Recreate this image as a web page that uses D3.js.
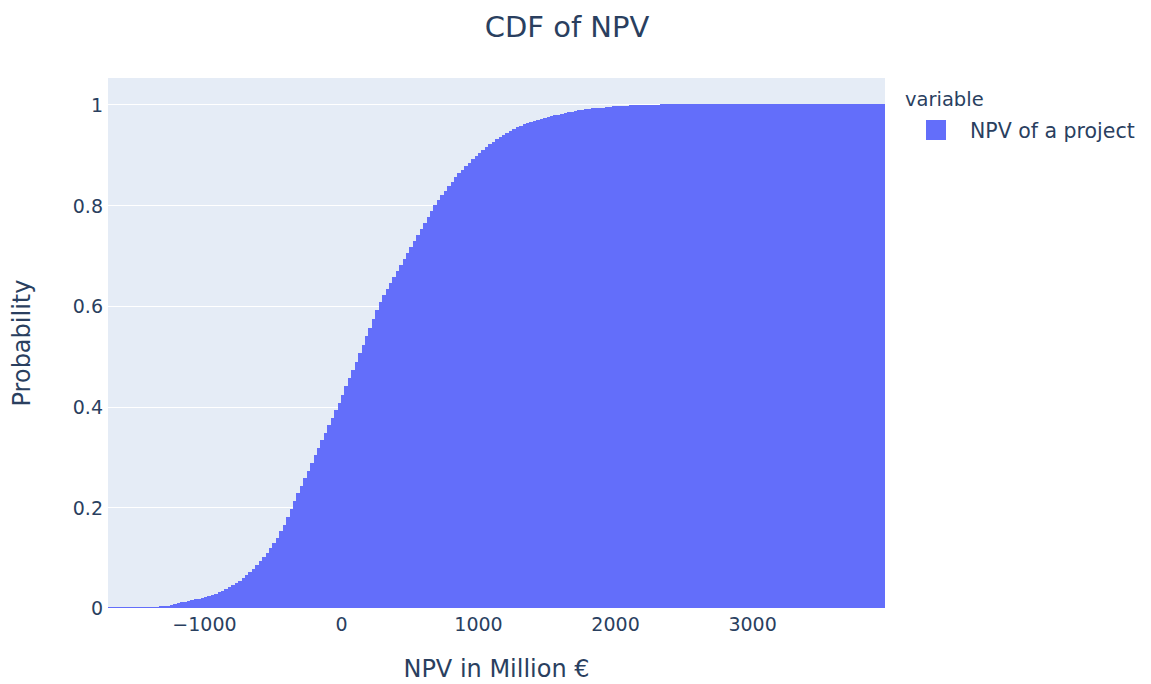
<!DOCTYPE html>
<html>
<head>
<meta charset="utf-8">
<script src="https://cdn.jsdelivr.net/npm/d3@7"></script>
<style>
  html, body { margin: 0; padding: 0; background: #fff; }
  svg text { font-family: "DejaVu Sans", Verdana, sans-serif; fill: #2a3f5f; }
</style>
</head>
<body>
<svg id="chart" width="1151" height="684"></svg>
<script>
// ---- data ----
const binStart = -1700;       // first bin edge (NPV, million €)
const binSize = 25;           // bin width (NPV, million €)
const xDomain = [-1700, 3970];
// cumulative probability of each bin, left to right
const cdfValues = [
  0.001, 0.001, 0.001, 0.001, 0.001, 0.001, 0.001, 0.001, 0.001, 0.002,
  0.002, 0.002, 0.002, 0.002, 0.002, 0.003, 0.003, 0.004, 0.006, 0.008,
  0.010, 0.011, 0.012, 0.014, 0.015, 0.017, 0.018, 0.020, 0.022, 0.024,
  0.026, 0.028, 0.031, 0.034, 0.037, 0.041, 0.045, 0.049, 0.054, 0.059,
  0.065, 0.071, 0.078, 0.086, 0.094, 0.102, 0.110, 0.119, 0.129, 0.140,
  0.152, 0.165, 0.180, 0.196, 0.212, 0.228, 0.243, 0.258, 0.273, 0.288,
  0.303, 0.318, 0.333, 0.348, 0.363, 0.378, 0.393, 0.408, 0.424, 0.440,
  0.456, 0.472, 0.489, 0.506, 0.523, 0.540, 0.557, 0.574, 0.591, 0.607,
  0.621, 0.634, 0.646, 0.658, 0.670, 0.682, 0.693, 0.705, 0.717, 0.729,
  0.741, 0.753, 0.765, 0.777, 0.789, 0.800, 0.810, 0.820, 0.829, 0.838,
  0.847, 0.855, 0.863, 0.870, 0.877, 0.884, 0.891, 0.898, 0.904, 0.910,
  0.916, 0.921, 0.926, 0.931, 0.936, 0.940, 0.944, 0.948, 0.952, 0.955,
  0.958, 0.961, 0.964, 0.966, 0.968, 0.970, 0.972, 0.974, 0.976, 0.977,
  0.979, 0.980, 0.982, 0.983, 0.985, 0.986, 0.987, 0.989, 0.990, 0.991,
  0.992, 0.993, 0.993, 0.994, 0.994, 0.995, 0.995, 0.996, 0.996, 0.997,
  0.997, 0.997, 0.998, 0.998, 0.998, 0.998, 0.999, 0.999, 0.999, 0.999,
  0.999,
  1, 1, 1, 1, 1, 1, 1, 1, 1, 1, 1,
  1, 1, 1, 1, 1, 1, 1, 1, 1, 1, 1,
  1, 1, 1, 1, 1, 1, 1, 1, 1, 1, 1,
  1, 1, 1, 1, 1, 1, 1, 1, 1, 1, 1,
  1, 1, 1, 1, 1, 1, 1, 1, 1, 1, 1,
  1, 1, 1, 1, 1, 1, 1, 1, 1, 1, 1
];
const xTicks = [-1000, 0, 1000, 2000, 3000];
const yTicks = [0, 0.2, 0.4, 0.6, 0.8, 1];
const seriesName = "NPV of a project";
const legendTitle = "variable";
const chartTitle = "CDF of NPV";
const xTitle = "NPV in Million €";
const yTitle = "Probability";

// ---- layout ----
const plot = { left: 108, right: 885, top: 78, bottom: 608 };
const svg = d3.select("#chart");

const x = d3.scaleLinear().domain(xDomain).range([plot.left, plot.right]);
const y = d3.scaleLinear().domain([0, 1.0526]).range([plot.bottom, plot.top]);

// background
svg.append("rect")
  .attr("x", plot.left).attr("y", plot.top)
  .attr("width", plot.right - plot.left).attr("height", plot.bottom - plot.top)
  .attr("fill", "#E5ECF6");

// gridlines
svg.append("g").selectAll("line").data(yTicks.filter(d => d > 0)).join("line")
  .attr("x1", plot.left).attr("x2", plot.right)
  .attr("y1", d => Math.round(y(d)) + 0.5).attr("y2", d => Math.round(y(d)) + 0.5)
  .attr("stroke", "#fff").attr("stroke-width", 1);

// bars
const bins = cdfValues.map((v, i) => {
  const x0 = binStart + i * binSize;
  return { x0, x1: Math.min(x0 + binSize, xDomain[1]), v };
}).filter(b => b.x0 < xDomain[1]);

svg.append("g").attr("shape-rendering", "crispEdges")
  .selectAll("rect").data(bins).join("rect")
  .attr("x", d => x(d.x0))
  .attr("width", d => x(d.x1) - x(d.x0))
  .attr("y", d => y(d.v))
  .attr("height", d => y(0) - y(d.v))
  .attr("fill", "#636EFA");

// axes
const xAxis = svg.append("g")
  .attr("transform", `translate(0,${plot.bottom})`)
  .call(d3.axisBottom(x).tickValues(xTicks).tickSize(0).tickPadding(0)
    .tickFormat(d => d < 0 ? "\u2212" + Math.abs(d) : String(d)));
xAxis.select(".domain").remove();
xAxis.selectAll("text").attr("font-size", 19).attr("dy", null).attr("y", 23);

const yAxis = svg.append("g")
  .attr("transform", `translate(${plot.left},0)`)
  .call(d3.axisLeft(y).tickValues(yTicks).tickSize(0).tickPadding(5)
    .tickFormat(d => String(d)));
yAxis.select(".domain").remove();
yAxis.selectAll("text").attr("font-size", 19).attr("dy", "0.36em");

// titles
svg.append("text").attr("x", 567).attr("y", 37).attr("text-anchor", "middle")
  .attr("font-size", 29).text(chartTitle);
svg.append("text").attr("x", (plot.left + plot.right) / 2).attr("y", 677)
  .attr("text-anchor", "middle").attr("font-size", 24).text(xTitle);
svg.append("text")
  .attr("transform", `translate(30,${(plot.top + plot.bottom) / 2}) rotate(-90)`)
  .attr("text-anchor", "middle").attr("font-size", 24).text(yTitle);

// legend
const lg = svg.append("g").attr("transform", "translate(905,0)");
lg.append("text").attr("x", 0).attr("y", 106).attr("font-size", 19.5).text(legendTitle);
lg.append("rect").attr("x", 21).attr("y", 120).attr("width", 20).attr("height", 20)
  .attr("fill", "#636EFA");
lg.append("text").attr("x", 65).attr("y", 138).attr("font-size", 20.5).text(seriesName);
</script>
</body>
</html>
